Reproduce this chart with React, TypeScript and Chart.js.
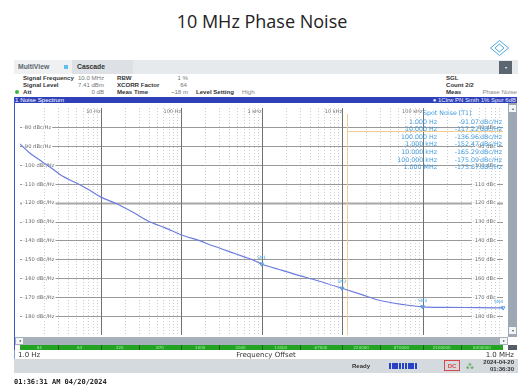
import React, { useEffect, useRef } from "react";
import { Chart, registerables } from "chart.js";
Chart.register(...registerables);

// ---- data ----
const traceFreqs = [1, 1.3, 1.9, 2.5, 3.35, 4.95, 7, 10, 15.7, 25, 40, 65, 100, 180, 218, 300, 457, 800, 1000, 1800, 2900, 5000, 10000, 18000, 28000, 60000, 100000, 200000, 500000, 1000000];
const traceNoise = [-89, -93.5, -98.5, -102, -106, -109.5, -113, -117, -120.5, -125, -130, -133.5, -137, -140.5, -142, -144, -146.8, -150.5, -152.5, -155.8, -158.5, -161.3, -165.3, -168.8, -171.5, -174, -175.1, -175.4, -175.5, -175.7];

const markerFreqs = [1000, 10000, 100000, 1000000];
const markerValues = [-152.47, -165.29, -175.09, -175.67];
const markerLabels = ["SN1", "SN2", "SN3", "SN4"];

const spotFreqLabels = ["1.000 Hz", "10.000 Hz", "100.000 Hz", "1.000 kHz", "10.000 kHz", "100.000 kHz", "1.000 MHz"];
const spotValues = ["-91.07", "-117.22", "-136.96", "-152.47", "-165.29", "-175.09", "-175.67"];

const yTickValues = [-80, -90, -100, -110, -120, -130, -140, -150, -160, -170, -180];
const decadeValues = [10, 100, 1000, 10000, 100000];
const decadeLabels = ["10 Hz", "100 Hz", "1 kHz", "10 kHz", "100 kHz"];

const segEdges = [1, 3, 10, 30, 100, 300, 1000, 3000, 10000, 30000, 100000, 300000, 1000000];
const segLabels = ["64", "64", "220", "870", "3000", "3000", "13000", "67000", "220000", "870000", "2200000", "6400000"];

const limitFreq = 11600;
const limitLevel = -82;

const X_MIN = 1, X_MAX = 1000000, Y_MIN = -190, Y_MAX = -70;

const gridPlugin = {
  id: "pnGrid",
  beforeDatasetsDraw(chart: any) {
    const { ctx, chartArea: a, scales } = chart;
    const x = scales.x, y = scales.y;
    ctx.save();
    // minor vertical (dotted)
    ctx.strokeStyle = "#cdcdcd";
    ctx.lineWidth = 1;
    ctx.setLineDash([1, 2]);
    for (let d = 0; d < 6; d++) {
      for (let m = 2; m <= 9; m++) {
        const px = Math.round(x.getPixelForValue(m * Math.pow(10, d))) + 0.5;
        ctx.beginPath(); ctx.moveTo(px, a.top); ctx.lineTo(px, a.bottom); ctx.stroke();
      }
    }
    ctx.setLineDash([]);
    // horizontal lines
    yTickValues.forEach((v) => {
      const py = Math.round(y.getPixelForValue(v)) + 0.5;
      ctx.strokeStyle = v === -120 ? "#a8a8a8" : "#999999";
      ctx.lineWidth = v === -120 ? 2 : 1;
      ctx.beginPath(); ctx.moveTo(a.left, py); ctx.lineTo(a.right, py); ctx.stroke();
    });
    // major vertical
    ctx.strokeStyle = "#727272";
    ctx.lineWidth = 1;
    decadeValues.forEach((f) => {
      const px = Math.round(x.getPixelForValue(f)) + 0.5;
      ctx.beginPath(); ctx.moveTo(px, a.top); ctx.lineTo(px, a.bottom); ctx.stroke();
    });
    // orange limit lines
    ctx.strokeStyle = "#f2cf8f";
    const lx = Math.round(x.getPixelForValue(limitFreq)) + 0.5;
    const ly = Math.round(y.getPixelForValue(limitLevel)) + 0.5;
    ctx.beginPath(); ctx.moveTo(lx, a.top + 6); ctx.lineTo(lx, a.bottom); ctx.stroke();
    ctx.beginPath(); ctx.moveTo(lx, ly); ctx.lineTo(a.right, ly); ctx.stroke();

    // decade labels at top
    ctx.font = '5px "DejaVu Sans"';
    ctx.fillStyle = "#777";
    ctx.textBaseline = "middle";
    ctx.textAlign = "right";
    decadeValues.forEach((f, i) => {
      const px = x.getPixelForValue(f);
      ctx.fillText(decadeLabels[i], px, a.top + 3.5);
    });
    // y labels left and right
    ctx.font = '5.2px "DejaVu Sans"';
    yTickValues.forEach((v) => {
      const py = y.getPixelForValue(v);
      const l1 = v + " dBc/Hz";
      ctx.textAlign = "left";
      const w1 = ctx.measureText(l1).width;
      ctx.fillStyle = "#fff";
      ctx.fillRect(a.left + 2, py - 3, w1 + 2, 6);
      ctx.fillStyle = "#6a6a6a";
      ctx.fillText(l1, a.left + 3, py + 0.5);
      const l2 = v + " dBc";
      const w2 = ctx.measureText(l2).width;
      ctx.fillStyle = "#fff";
      ctx.fillRect(a.right - 7 - w2 - 1, py - 3, w2 + 2, 6);
      ctx.fillStyle = "#6a6a6a";
      ctx.textAlign = "right";
      ctx.fillText(l2, a.right - 7, py + 0.5);
    });
    // spot noise table
    ctx.fillStyle = "#3f9bdc";
    ctx.font = '6.3px "DejaVu Sans"';
    ctx.textAlign = "left";
    ctx.fillText("Spot Noise [T1]", a.right - 80, a.top + 5);
    spotFreqLabels.forEach((lab, i) => {
      const ty = a.top + 14 + i * 7.6;
      ctx.textAlign = "right";
      ctx.fillText(lab, a.right - 66, ty);
      ctx.fillText(spotValues[i], a.right - 24, ty);
      ctx.textAlign = "left";
      ctx.fillText("dBc/Hz", a.right - 23, ty);
    });
    ctx.restore();
  },
  afterDatasetsDraw(chart: any) {
    const { ctx, scales } = chart;
    const x = scales.x, y = scales.y;
    ctx.save();
    ctx.font = '4.5px "DejaVu Sans"';
    ctx.fillStyle = "#45a3e0";
    ctx.textBaseline = "middle";
    markerFreqs.forEach((f, i) => {
      const px = x.getPixelForValue(f);
      const py = y.getPixelForValue(markerValues[i]);
      ctx.textAlign = i === markerFreqs.length - 1 ? "right" : "center";
      ctx.fillText(markerLabels[i], px, py - 6);
    });
    ctx.restore();
  },
  afterDraw(chart: any) {
    const { ctx, chartArea: a, scales } = chart;
    const x = scales.x;
    ctx.save();
    const top = a.bottom + 10, h = 5;
    ctx.fillStyle = "#22a322";
    ctx.fillRect(a.left, top, a.right - a.left, h);
    ctx.strokeStyle = "#1d5e1d";
    ctx.lineWidth = 1;
    segEdges.forEach((f, i) => {
      if (i === 0 || i === segEdges.length - 1) return;
      const px = Math.round(x.getPixelForValue(f)) + 0.5;
      ctx.beginPath(); ctx.moveTo(px, top); ctx.lineTo(px, top + h); ctx.stroke();
    });
    ctx.font = '4px "DejaVu Sans"';
    ctx.fillStyle = "#a6eca6";
    ctx.textAlign = "center";
    ctx.textBaseline = "middle";
    segLabels.forEach((lab, i) => {
      const p0 = x.getPixelForValue(segEdges[i]);
      const p1 = x.getPixelForValue(segEdges[i + 1]);
      ctx.fillText(lab, (p0 + p1) / 2, top + 2.5);
    });
    ctx.restore();
  },
};

type TP = { x: number; y: number; s?: number; w?: number; c?: string; a?: string; f?: string; children?: any };
const T = ({ x, y, s = 6.1, w = 400, c = "#333", a = "left", f = '"Liberation Sans"', children }: TP) => {
  const style: any = {
    position: "absolute", top: y - s, height: 2 * s, lineHeight: 2 * s + "px", fontSize: s,
    fontWeight: w, color: c, fontFamily: f, whiteSpace: "nowrap",
  };
  if (a === "left") style.left = x;
  else if (a === "right") style.right = 532 - x;
  else { style.left = x - 200; style.width = 400; style.textAlign = "center"; }
  return <div style={style}>{children}</div>;
};

const Box = ({ l, t, w, h, bg, extra }: any) => (
  <div style={{ position: "absolute", left: l, top: t, width: w, height: h, background: bg, ...(extra || {}) }} />
);

export default function App() {
  const ref = useRef<HTMLCanvasElement>(null);
  useEffect(() => {
    const chart = new Chart(ref.current as HTMLCanvasElement, {
      type: "line",
      data: {
        datasets: [
          {
            data: traceFreqs.map((f, i) => ({ x: f, y: traceNoise[i] })),
            borderColor: "#6b7ce0",
            borderWidth: 1.2,
            pointRadius: 0,
            cubicInterpolationMode: "monotone",
            fill: false,
          } as any,
          {
            data: markerFreqs.map((f, i) => ({ x: f, y: markerValues[i] })),
            showLine: false,
            pointStyle: "triangle",
            rotation: 180,
            pointRadius: 2.2,
            borderColor: "#45a3e0",
            backgroundColor: "rgba(255,255,255,0.6)",
            borderWidth: 1,
            clip: false,
          } as any,
        ],
      },
      options: {
        animation: false,
        responsive: false,
        maintainAspectRatio: false,
        events: [],
        layout: { padding: { left: 0, right: 0, top: 0, bottom: 15 } },
        plugins: { legend: { display: false }, tooltip: { enabled: false } },
        scales: {
          x: { type: "logarithmic", min: X_MIN, max: X_MAX, display: false },
          y: { type: "linear", min: Y_MIN, max: Y_MAX, display: false },
        },
      } as any,
      plugins: [gridPlugin],
    });
    return () => chart.destroy();
  }, []);

  return (
    <div style={{ position: "absolute", left: 0, top: 0, width: 532, height: 390, background: "#fff", overflow: "hidden" }}>
      <T x={262} y={21} s={18} a="center" f='"Open Sans"' c="#222">10 MHz Phase Noise</T>
      <svg style={{ position: "absolute", left: 490, top: 40 }} width={19} height={16} viewBox="0 0 19 16">
        <polygon points="9.5,0.5 18.5,8 9.5,15.5 0.5,8" fill="none" stroke="#4fa6de" strokeWidth="1" />
        <polygon points="9.5,4 14,8 9.5,12 5,8" fill="none" stroke="#4fa6de" strokeWidth="1" />
      </svg>

      {/* tab bar */}
      <Box l={14} t={60} w={504} h={14} bg="#e7eaed" />
      <Box l={14} t={60} w={58} h={14} bg="#eef0f2" />
      <T x={18} y={67} s={6.8} w={700} c="#5d6670">MultiView</T>
      <Box l={64} t={65} w={4} h={4} bg="#5fc0ea" />
      <Box l={72} t={60} w={61} h={14} bg="#dde1e5" />
      <T x={77} y={67} s={6.8} w={700} c="#333">Cascade</T>
      <Box l={499} t={61} w={13} h={13} bg="#5b6671" />
      <T x={505.5} y={67.5} s={4} a="center" c="#fff">▾</T>

      {/* info panel */}
      <T x={23} y={78} w={700} c="#333">Signal Frequency</T>
      <T x={104} y={78} a="right" c="#777">10.0 MHz</T>
      <T x={117} y={78} w={700} c="#333">RBW</T>
      <T x={188} y={78} a="right" c="#777">1 %</T>
      <T x={446} y={78} w={700} c="#333">SGL</T>
      <T x={23} y={85} w={700} c="#333">Signal Level</T>
      <T x={104} y={85} a="right" c="#777">7.41 dBm</T>
      <T x={117} y={85} w={700} c="#333">XCORR Factor</T>
      <T x={187} y={85} a="right" c="#777">64</T>
      <T x={446} y={85} w={700} c="#333">Count 2/2</T>
      <Box l={15} t={90} w={4} h={4} bg="#3cb43c" extra={{ borderRadius: 2 }} />
      <T x={23} y={92} w={700} c="#333">Att</T>
      <T x={104} y={92} a="right" c="#777">0 dB</T>
      <T x={117} y={92} w={700} c="#333">Meas Time</T>
      <T x={188} y={92} a="right" c="#777">~18 m</T>
      <T x={196} y={92} w={700} c="#333">Level Setting</T>
      <T x={242} y={92} c="#888">High</T>
      <T x={446} y={92} w={700} c="#333">Meas</T>
      <T x={517} y={92} a="right" c="#888">Phase Noise</T>

      {/* header */}
      <Box l={14} t={96.5} w={503} h={6.5} bg="#2f40b9" />
      <T x={15} y={99.8} s={6.2} c="#fff">1 Noise Spectrum</T>
      <T x={516} y={99.8} s={6} a="right" c="#e8ecff">● 1Clrw PN Smth 1% Spur 6dB</T>

      {/* plot canvas */}
      <canvas ref={ref} width={493} height={247} style={{ position: "absolute", left: 15, top: 103, width: 493, height: 247 }} />
      <Box l={14} t={96.5} w={1} h={254} bg="#3f55c4" />

      {/* vertical scrollbar */}
      <Box l={508} t={103} w={9} h={242} bg="#9ca8b4" />
      <Box l={509} t={105} w={7} h={7} bg="#f3f4f5" />
      <T x={512.5} y={108.5} s={4} a="center" c="#555">▴</T>
      <Box l={509} t={327} w={7} h={7} bg="#f3f4f5" />
      <T x={512.5} y={330.5} s={4} a="center" c="#555">▾</T>

      {/* horizontal scrollbar */}
      <Box l={15} t={337} w={493} h={8} bg="#a7b1bc" />
      <Box l={16} t={338} w={7} h={6} bg="#f3f4f5" />
      <T x={19.5} y={341} s={4} a="center" c="#555">◂</T>
      <Box l={500} t={338} w={7} h={6} bg="#f3f4f5" />
      <T x={503.5} y={341} s={4} a="center" c="#555">▸</T>
      <Box l={508} t={337} w={9} h={8} bg="#ffffff" />
      <Box l={508} t={345} w={9} h={5} bg="#555d66" />

      {/* bottom axis row */}
      <Box l={14} t={350} w={504} h={9} bg="#ffffff" extra={{ borderLeft: "1px solid #8a9bd0", boxSizing: "border-box" }} />
      <T x={18} y={354.5} s={7} c="#333" f='"DejaVu Sans"'>1.0 Hz</T>
      <T x={266} y={354.5} s={7} a="center" c="#333" f='"DejaVu Sans"'>Frequency Offset</T>
      <T x={514} y={354.5} s={7} a="right" c="#333" f='"DejaVu Sans"'>1.0 MHz</T>

      {/* status bar */}
      <Box l={14} t={359} w={504} h={14} bg="#d5dadf" />
      <T x={352} y={366} s={6} w={700} c="#333">Ready</T>
      <Box l={389} t={363} w={29} h={6} bg="#2742c4" extra={{ backgroundImage: "repeating-linear-gradient(90deg, #2742c4 0 2.4px, #d5dadf 2.4px 3.2px)" }} />
      <Box l={444} t={360} w={16} h={11} bg="transparent" extra={{ border: "1px solid #d84848", boxSizing: "border-box" }} />
      <T x={452} y={365.5} s={6} a="center" c="#d84848" w={700}>DC</T>
      <T x={470} y={365.5} s={7} a="center" c="#3aa23a">⁂</T>
      <T x={514} y={362} s={6} a="right" w={700} c="#333">2024-04-20</T>
      <T x={514} y={369} s={6} a="right" w={700} c="#333">01:36:30</T>

      <T x={14} y={382} s={7} w={700} c="#222" f='"DejaVu Sans Mono"'>01:36:31 AM  04/20/2024</T>
    </div>
  );
}
